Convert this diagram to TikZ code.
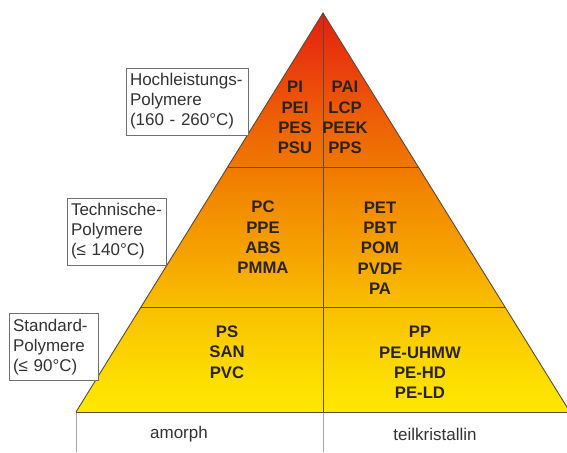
\documentclass[tikz,border=0pt]{standalone}
\usepackage{fontspec}
\setmainfont{Liberation Sans}
\usetikzlibrary{calc}
\definecolor{edgecol}{HTML}{5A4A3A}
\definecolor{boxcol}{HTML}{707070}
\definecolor{polytext}{HTML}{2A2418}
\pgfdeclareverticalshading{pyramid}{100bp}{%
  color(0bp)=(rgb,255:red,255;green,232;blue,0);
  color(25bp)=(rgb,255:red,255;green,232;blue,0);
  color(29bp)=(rgb,255:red,253;green,222;blue,0);
  color(38bp)=(rgb,255:red,249;green,192;blue,0);
  color(45bp)=(rgb,255:red,245;green,162;blue,0);
  color(51.6bp)=(rgb,255:red,242;green,138;blue,0);
  color(55.7bp)=(rgb,255:red,240;green,120;blue,0);
  color(61.6bp)=(rgb,255:red,238;green,96;blue,6);
  color(68bp)=(rgb,255:red,234;green,64;blue,12);
  color(75bp)=(rgb,255:red,227;green,32;blue,14);
  color(100bp)=(rgb,255:red,227;green,32;blue,14)}
\begin{document}
\begin{tikzpicture}[x=1pt,y=-1pt,
  poly/.style={font=\fontsize{16.7}{20.3}\selectfont\bfseries, align=center, text=polytext, inner sep=0pt},
  lbl/.style={draw=boxcol, fill=white, line width=0.9pt, font=\fontsize{17}{20}\selectfont, align=left, inner xsep=4pt, inner ysep=0pt, minimum height=67pt, text=black!80},
  tri/.style={draw=edgecol, line width=0.9pt},
  sep/.style={draw=edgecol, line width=0.8pt},
  basebox/.style={draw=gray!70, line width=0.9pt},
  foot/.style={font=\fontsize{17}{20}\selectfont, text=black!80}]
\useasboundingbox (0,0) rectangle (567,452);
\coordinate (apex) at (323,13);
\coordinate (bl) at (76,412);
\coordinate (br) at (570,412);
\coordinate (bot) at (323,452);
\coordinate (bll) at (76,452);
\coordinate (l1) at ($(apex)!0.386!(bl)$);
\coordinate (r1) at ($(apex)!0.386!(br)$);
\coordinate (l2) at ($(apex)!0.737!(bl)$);
\coordinate (r2) at ($(apex)!0.737!(br)$);
\coordinate (mid) at (323,412);
\begin{scope}
\clip (0,0) rectangle (567,452);
\shade[shading=pyramid] (apex) -- (bl) -- (br) -- cycle;
\draw[sep] (l1) -- (r1);
\draw[sep] (l2) -- (r2);
\draw[basebox] (mid) -- (bot);
\draw[basebox] (bl) -- (bll);
\draw[sep] (apex) -- (mid);
\draw[tri] (bl) -- (apex) -- (br);
\draw[tri] (bl) -- (br);
\end{scope}
% polymer names
\node[poly] (hl) at (295,117.5) {PI\\PEI\\PES\\PSU};
\node[poly] (hr) at (345,117.5) {PAI\\LCP\\PEEK\\PPS};
\node[poly] (tl) at (263,237.5) {PC\\PPE\\ABS\\PMMA};
\node[poly] (tr) at (380,248) {PET\\PBT\\POM\\PVDF\\PA};
\node[poly] (sl) at (227,352) {PS\\SAN\\PVC};
\node[poly] (sr) at (420,362.5) {PP\\PE-UHMW\\PE-HD\\PE-LD};
% category labels
\node[lbl, text width=114pt] (hoch) at (187,101.5) {Hochleistungs-\\Polymere\\(160 - 260°C)};
\node[lbl, text width=91pt] (tech) at (116.5,231.5) {Technische-\\Polymere\\(≤ 140°C)};
\node[lbl, text width=81pt] (std) at (53.5,347) {Standard-\\Polymere\\(≤ 90°C)};
% bottom
\node[foot] (am) at (179,434) {amorph};
\node[foot] (tk) at (435,434) {teilkristallin};
\end{tikzpicture}
\end{document}
